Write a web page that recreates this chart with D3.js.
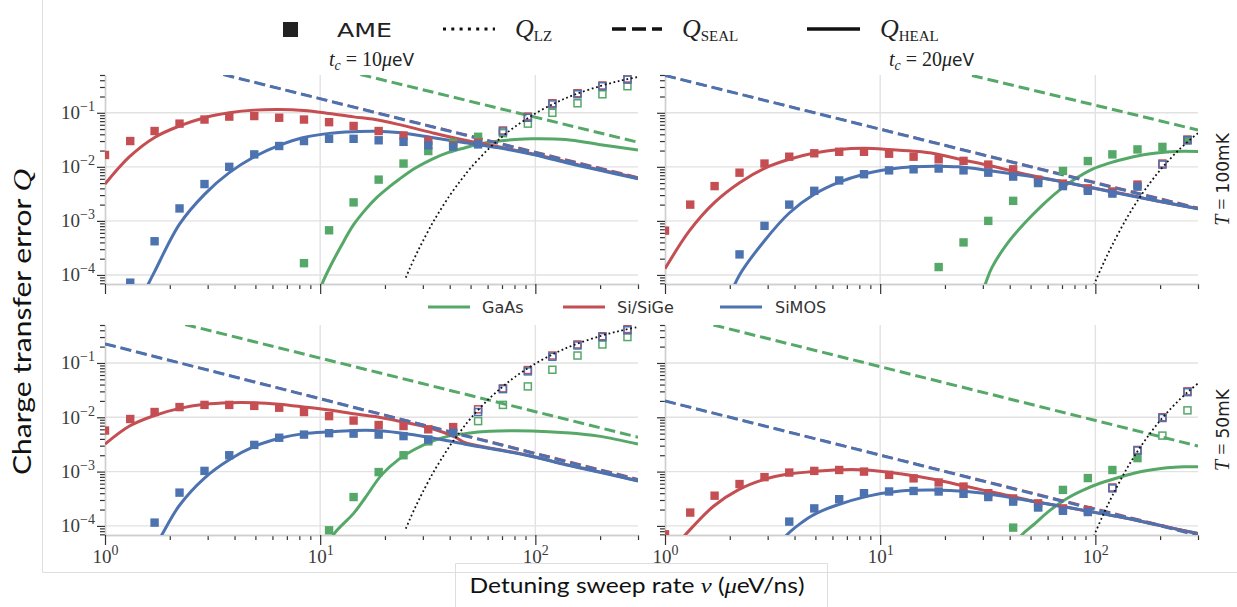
<!DOCTYPE html>
<html><head><meta charset="utf-8">
<script src="https://cdn.jsdelivr.net/npm/d3@7"></script>
<style>body{margin:0;background:#fff;} svg{display:block}</style>
</head><body>
<svg id="chart" width="1237" height="607"></svg>
<script>
// ---------------- DATA ----------------
const materials = ["GaAs", "Si/SiGe", "SiMOS"];
const panelTitles = ["10", "20"];          // t_c in μeV (columns)
const panelTemps = ["100mK", "50mK"];      // T (rows)
const xTickExps = [0, 1, 2];
const yTickExps = [-4, -3, -2, -1];
const xDomain = [1, 300];
const yDomain = [6.8e-5, 0.5];

// sweep rates of the AME points (μeV/ns)
const rates = [1.00, 1.31, 1.70, 2.22, 2.90, 3.78, 4.94, 6.45, 8.41, 11.0, 14.3, 18.7, 24.4, 31.8, 41.5, 54.2, 70.7, 92.3, 120, 157, 205, 268];

// AME values: top-left (tc=10, T=100mK)
const ameTL_GaAs   = [null,null,null,null,null,null,null,null,1.65e-4,6.7e-4,2.2e-3,5.8e-3,0.0115,0.0196,0.028,0.036,0.042,0.063,0.10,0.15,0.22,0.31];
const ameTL_SiSiGe = [0.0166,0.030,0.046,0.063,0.075,0.085,0.087,0.081,0.075,0.067,0.057,0.046,0.038,0.030,0.025,0.028,0.047,0.085,0.15,0.23,0.32,0.43];
const ameTL_SiMOS  = [null,7.2e-5,4.2e-4,1.7e-3,4.8e-3,0.010,0.017,0.0243,0.030,0.033,0.033,0.031,0.029,0.025,0.0236,0.026,0.045,0.081,0.143,0.22,0.31,0.41];
// top-right (tc=20, T=100mK)
const ameTR_GaAs   = [null,null,null,null,null,null,null,null,null,null,null,1.4e-4,4.0e-4,1.0e-3,2.35e-3,5.0e-3,8.4e-3,0.0128,0.017,0.021,0.0234,0.031];
const ameTR_SiSiGe = [6.6e-4,2.0e-3,4.4e-3,7.8e-3,0.0115,0.0154,0.0178,0.019,0.019,0.0175,0.0154,0.0138,0.0129,0.011,0.009,0.0058,0.0049,0.0040,0.0035,0.0047,0.0115,0.032];
const ameTR_SiMOS  = [null,null,null,2.4e-4,8.1e-4,2.0e-3,3.6e-3,5.6e-3,7.3e-3,8.6e-3,9.0e-3,9.3e-3,8.6e-3,7.8e-3,6.6e-3,5.1e-3,4.4e-3,3.6e-3,3.2e-3,4.3e-3,0.011,0.031];
// bottom-left (tc=10, T=50mK)
const ameBL_GaAs   = [null,null,null,null,null,null,null,null,null,8.3e-5,3.4e-4,9.8e-4,2.0e-3,3.6e-3,5.2e-3,8.5e-3,0.0169,0.037,0.075,0.137,0.219,0.30];
const ameBL_SiSiGe = [5.7e-3,9.3e-3,0.0125,0.0154,0.0169,0.0169,0.0162,0.015,0.0125,0.0105,8.7e-3,7.2e-3,6.9e-3,6.0e-3,6.6e-3,0.014,0.034,0.074,0.137,0.219,0.31,0.42];
const ameBL_SiMOS  = [null,null,1.15e-4,4.1e-4,1.03e-3,2.0e-3,3.1e-3,4.2e-3,4.8e-3,5.1e-3,5.0e-3,4.8e-3,4.5e-3,3.9e-3,5.2e-3,0.0125,0.033,0.070,0.13,0.21,0.30,0.40];
// bottom-right (tc=20, T=50mK)
const ameBR_GaAs   = [null,null,null,null,null,null,null,null,null,null,null,null,null,null,9.3e-5,2.2e-4,4.6e-4,7.6e-4,1.07e-3,1.77e-3,4.6e-3,0.0134];
const ameBR_SiSiGe = [7e-5,1.76e-4,3.6e-4,5.9e-4,7.9e-4,9.6e-4,1.03e-3,1.07e-3,1.0e-3,8.7e-4,7.5e-4,6.3e-4,5.3e-4,4.0e-4,3.2e-4,2.6e-4,2.1e-4,1.95e-4,5.1e-4,2.5e-3,0.0100,0.030];
const ameBR_SiMOS  = [null,null,null,null,null,1.2e-4,2.1e-4,3.1e-4,4.0e-4,4.3e-4,4.4e-4,4.3e-4,3.9e-4,3.4e-4,2.8e-4,2.2e-4,1.9e-4,1.8e-4,4.9e-4,2.45e-3,9.7e-3,0.029];
// index from which the AME points are drawn open (GaAs, Si/SiGe, SiMOS)
const openTL = [16, 16, 16];
const openTR = [99, 20, 20];
const openBL = [15, 15, 15];
const openBR = [20, 18, 18];

// Q_HEAL curves [rate, Q]
const healTL_GaAs   = [[9.6,3.5e-5],[10.2,6.8e-5],[11,1.3e-4],[12.5,3.4e-4],[14.3,8.5e-4],[16.2,1.6e-3],[18.4,2.75e-3],[21,4.3e-3],[23.3,5.9e-3],[27.7,9.5e-3],[33,0.0138],[39.5,0.0185],[47.2,0.0226],[56.3,0.027],[67.5,0.030],[80.7,0.032],[96.5,0.033],[138,0.032],[197,0.026],[300,0.0204]];
const healTL_SiSiGe = [[1,4.8e-3],[1.3,0.0154],[1.7,0.035],[2.22,0.057],[2.9,0.081],[3.78,0.10],[4.94,0.112],[6.45,0.115],[8.4,0.11],[11,0.097],[14.3,0.084],[18,0.075],[23.1,0.061],[33,0.043],[47.2,0.031],[67.5,0.0235],[96.5,0.0175],[138,0.0125],[197,0.0089],[300,0.0062]];
const healTL_SiMOS  = [[1.5,4e-5],[1.59,6.8e-5],[1.7,1.15e-4],[2.22,8.7e-4],[2.9,3.1e-3],[3.78,7.8e-3],[4.94,0.0154],[6.45,0.025],[8.4,0.035],[11,0.0416],[14.3,0.0446],[18,0.0455],[23.1,0.043],[33,0.035],[47.2,0.028],[67.5,0.0225],[96.5,0.017],[138,0.012],[197,0.0087],[300,0.006]];
const healTR_GaAs   = [[29,3.5e-5],[30.8,6.8e-5],[33,1.35e-4],[39.5,4.1e-4],[47.2,9.3e-4],[56.3,1.9e-3],[67.5,3.6e-3],[80.7,6e-3],[96.5,9e-3],[115,0.0116],[138,0.0141],[165,0.0165],[197,0.0183],[235,0.0193],[300,0.0193]];
const healTR_SiSiGe = [[1,1.3e-4],[1.3,6.6e-4],[1.7,2.2e-3],[2.22,5.1e-3],[2.9,9.4e-3],[3.78,0.0138],[4.94,0.018],[6.45,0.021],[8.4,0.022],[11,0.021],[14.3,0.0195],[18,0.0175],[23.1,0.014],[33,0.0104],[47.2,7.3e-3],[67.5,5.5e-3],[96.5,4.1e-3],[138,3.1e-3],[197,2.3e-3],[300,1.7e-3]];
const healTR_SiMOS  = [[2.0,4e-5],[2.22,1e-4],[2.9,4.3e-4],[3.78,1.4e-3],[4.94,3.1e-3],[6.45,5.2e-3],[8.4,7.3e-3],[11,9e-3],[14.3,0.01],[18,0.0103],[23.1,0.010],[33,8.4e-3],[47.2,6.9e-3],[67.5,5.45e-3],[96.5,4.1e-3],[138,3.05e-3],[197,2.3e-3],[300,1.68e-3]];
const healBL_GaAs   = [[10.8,3.5e-5],[11.5,6.8e-5],[14.3,1.7e-4],[16.2,3.3e-4],[19.3,8.7e-4],[23.1,1.66e-3],[27.7,2.6e-3],[33,3.6e-3],[39.5,4.5e-3],[47.2,5e-3],[56.3,5.4e-3],[67.5,5.6e-3],[96.5,5.6e-3],[138,5.2e-3],[197,4.5e-3],[300,3.2e-3]];
const healBL_SiSiGe = [[1,3.2e-3],[1.3,6.9e-3],[1.7,0.0108],[2.22,0.0146],[2.9,0.0174],[3.78,0.0186],[4.94,0.0186],[6.45,0.0174],[8.4,0.0155],[11,0.0136],[14.3,0.0116],[18,0.0103],[23.1,8.5e-3],[33,6.2e-3],[42.4,4.3e-3],[47.2,3.4e-3],[67.5,2.55e-3],[96.5,1.92e-3],[138,1.36e-3],[197,1.0e-3],[300,6.8e-4]];
const healBL_SiMOS  = [[1.7,4e-5],[1.835,6.8e-5],[2.22,2.4e-4],[2.9,7.6e-4],[3.78,1.65e-3],[4.94,2.9e-3],[6.45,4.1e-3],[8.4,5e-3],[11,5.4e-3],[14.3,5.7e-3],[18,5.7e-3],[23.1,5.2e-3],[33,4.2e-3],[47.2,3.2e-3],[67.5,2.5e-3],[96.5,1.9e-3],[138,1.34e-3],[197,9.8e-4],[300,6.7e-4]];
const healBR_GaAs   = [[42,4e-5],[45.5,6.8e-5],[51.6,1.05e-4],[61.7,1.95e-4],[73.8,3.2e-4],[88.3,4.6e-4],[105,6.1e-4],[126,7.6e-4],[151,9.3e-4],[180,1.07e-3],[215,1.18e-3],[257,1.23e-3],[300,1.23e-3]];
const healBR_SiSiGe = [[1.1,4e-5],[1.24,6.8e-5],[1.68,2.3e-4],[2.19,4.6e-4],[2.87,7.1e-4],[3.74,9e-4],[4.9,1.0e-3],[6.07,1.07e-3],[8.67,1.07e-3],[12.4,9.1e-4],[17.7,7.2e-4],[25.3,5.3e-4],[36.1,3.9e-4],[51.6,2.85e-4],[73.8,2.2e-4],[105,1.7e-4],[151,1.3e-4],[215,9.5e-5],[300,7.2e-5]];
const healBR_SiMOS  = [[3.3,4e-5],[3.68,6.8e-5],[4.25,1.1e-4],[4.9,1.6e-4],[6.07,2.3e-4],[8.67,3.5e-4],[12.4,4.4e-4],[17.7,4.6e-4],[25.3,4.3e-4],[36.1,3.6e-4],[51.6,2.8e-4],[73.8,2.2e-4],[105,1.7e-4],[151,1.3e-4],[215,9.6e-5],[300,7.2e-5]];

// Q_SEAL straight lines [rate, Q] end points
const sealTL_GaAs   = [[15.4,0.51],[300,0.0285]];
const sealTL_SiSiGe = [[3.55,0.51],[300,0.0064]];
const sealTL_SiMOS  = [[3.55,0.51],[300,0.0061]];
const sealTR_GaAs   = [[26.7,0.49],[300,0.048]];
const sealTR_SiSiGe = [[1,0.49],[300,0.00175]];
const sealTR_SiMOS  = [[1,0.49],[300,0.00168]];
const sealBL_GaAs   = [[2.36,0.51],[300,0.0043]];
const sealBL_SiSiGe = [[1,0.225],[300,7.3e-4]];
const sealBL_SiMOS  = [[1,0.225],[300,7.0e-4]];
const sealBR_GaAs   = [[1.68,0.50],[300,2.95e-3]];
const sealBR_SiSiGe = [[1,0.020],[300,7.0e-5]];
const sealBR_SiMOS  = [[1,0.020],[300,6.7e-5]];

// Q_LZ curves [rate, Q]
const lzTc10 = [[25,8.9e-5],[26,1.28e-4],[28,2.43e-4],[30,4.2e-4],[33,8.6e-4],[35,1.28e-3],[40,2.95e-3],[45,5.6e-3],[50,9.5e-3],[60,0.0206],[70,0.0358],[80,0.0544],[100,0.0973],[125,0.155],[150,0.212],[200,0.312],[250,0.394],[300,0.46]];
const lzTc20 = [[95,4.5e-5],[100,7.5e-5],[110,1.77e-4],[120,3.6e-4],[140,1.13e-3],[160,2.64e-3],[180,5.1e-3],[200,8.7e-3],[225,0.0147],[250,0.0224],[275,0.0316],[300,0.042]];

// ---------------- STYLE / LAYOUT ----------------
const matColors = ["#55a868", "#c44e52", "#4c72b0"];
const sealWidths = [3, 2.2, 3];
const serif = "'Liberation Serif', 'DejaVu Serif', serif";
const sans = "'DejaVu Sans', sans-serif";
const layout = [
  {x0:105, x1:638, y0:75, y1:284},
  {x0:665, x1:1198, y0:75, y1:284},
  {x0:105, x1:638, y0:325, y1:535},
  {x0:665, x1:1198, y0:325, y1:535}
];
const panels = [
  {ame:[ameTL_GaAs, ameTL_SiSiGe, ameTL_SiMOS], open:openTL, heal:[healTL_GaAs, healTL_SiSiGe, healTL_SiMOS], seal:[sealTL_GaAs, sealTL_SiSiGe, sealTL_SiMOS], lz:lzTc10},
  {ame:[ameTR_GaAs, ameTR_SiSiGe, ameTR_SiMOS], open:openTR, heal:[healTR_GaAs, healTR_SiSiGe, healTR_SiMOS], seal:[sealTR_GaAs, sealTR_SiSiGe, sealTR_SiMOS], lz:lzTc20},
  {ame:[ameBL_GaAs, ameBL_SiSiGe, ameBL_SiMOS], open:openBL, heal:[healBL_GaAs, healBL_SiSiGe, healBL_SiMOS], seal:[sealBL_GaAs, sealBL_SiSiGe, sealBL_SiMOS], lz:lzTc10},
  {ame:[ameBR_GaAs, ameBR_SiSiGe, ameBR_SiMOS], open:openBR, heal:[healBR_GaAs, healBR_SiSiGe, healBR_SiMOS], seal:[sealBR_GaAs, sealBR_SiSiGe, sealBR_SiMOS], lz:lzTc20}
];

const svg = d3.select("#chart");
svg.append("rect").attr("width", 1237).attr("height", 607).attr("fill", "#fff");

// frame of the pasted figure and the label box
const frame = svg.append("g").attr("stroke", "#dedede").attr("stroke-width", 1).attr("fill", "none");
frame.append("path").attr("d", "M42.5,0V572.5H1237");
frame.append("path").attr("d", "M455.5,607V563.5H827.5V607");

// helper for rich math-like text
function rich(sel, parts) {
  let shift = 0;
  parts.forEach(p => {
    const t = sel.append("tspan").text(p.t);
    const s = p.shift || 0;
    if (s !== shift) { t.attr("dy", s - shift); shift = s; }
    if (p.font) t.attr("font-family", p.font);
    if (p.size) t.attr("font-size", p.size);
    if (p.italic) t.attr("font-style", "italic");
  });
  return sel;
}

const isMajor = v => Math.abs(Math.log10(v) - Math.round(Math.log10(v))) < 1e-9;

panels.forEach((p, pi) => {
  const L = layout[pi];
  const col = pi % 2, row = Math.floor(pi / 2);
  const x = d3.scaleLog().domain(xDomain).range([L.x0, L.x1]);
  const y = d3.scaleLog().domain(yDomain).range([L.y1, L.y0]);
  const g = svg.append("g");
  const clipId = "clip" + pi;
  svg.append("clipPath").attr("id", clipId).append("rect")
    .attr("x", L.x0).attr("y", L.y0).attr("width", L.x1 - L.x0).attr("height", L.y1 - L.y0);

  const yMajors = yTickExps.map(e => Math.pow(10, e));
  const xMajors = xTickExps.map(e => Math.pow(10, e));
  // grid
  g.append("g").selectAll("line").data(yMajors).join("line")
    .attr("x1", L.x0).attr("x2", L.x1).attr("y1", d => y(d)).attr("y2", d => y(d))
    .attr("stroke", "#e2e2e2").attr("stroke-width", 1.4);
  g.append("g").selectAll("line").data(xMajors.filter(v => v > xDomain[0])).join("line")
    .attr("y1", L.y0).attr("y2", L.y1).attr("x1", d => x(d)).attr("x2", d => x(d))
    .attr("stroke", "#e2e2e2").attr("stroke-width", 1.4);

  // axes
  const styleAxis = a => {
    a.select(".domain").attr("stroke", "#cfcfcf").attr("stroke-width", 1.4);
    a.selectAll(".tick line").attr("stroke", "#333").attr("stroke-width", 1.2);
  };
  const yMinor = y.ticks().filter(v => !isMajor(v));
  const xMinor = x.ticks().filter(v => !isMajor(v));
  const ay1 = g.append("g").attr("transform", `translate(${L.x0},0)`)
    .call(d3.axisLeft(y).tickValues(yMinor).tickSize(5).tickSizeOuter(0).tickFormat(() => ""));
  styleAxis(ay1);
  const ay2 = g.append("g").attr("transform", `translate(${L.x0},0)`)
    .call(d3.axisLeft(y).tickValues(yMajors).tickSize(8).tickSizeOuter(0).tickFormat(() => ""));
  styleAxis(ay2);
  const ax1 = g.append("g").attr("transform", `translate(0,${L.y1})`)
    .call(d3.axisBottom(x).tickValues(xMinor).tickSize(5).tickSizeOuter(0).tickFormat(() => ""));
  styleAxis(ax1);
  const ax2 = g.append("g").attr("transform", `translate(0,${L.y1})`)
    .call(d3.axisBottom(x).tickValues(xMajors).tickSize(10).tickSizeOuter(0).tickFormat(() => ""));
  styleAxis(ax2);

  if (col === 0) {
    ay2.selectAll(".tick text").each(function(d) {
      const t = d3.select(this).attr("dy", null).attr("x", -10).attr("y", 6)
        .attr("font-family", serif).attr("font-size", 19).attr("fill", "#3a3a3a").attr("text-anchor", "end");
      rich(t, [{t: "10"}, {t: "\u2212" + Math.abs(Math.round(Math.log10(d))), size: 14, shift: -8}]);
    });
  }
  if (row === 1) {
    ax2.selectAll(".tick text").each(function(d) {
      const t = d3.select(this).attr("dy", null).attr("y", 28)
        .attr("font-family", serif).attr("font-size", 19).attr("fill", "#3a3a3a").attr("text-anchor", "middle");
      rich(t, [{t: "10"}, {t: String(Math.round(Math.log10(d))), size: 14, shift: -8}]);
    });
  }

  const plot = g.append("g").attr("clip-path", `url(#${clipId})`);
  const line = d3.line().x(d => x(d[0])).y(d => y(d[1])).curve(d3.curveCatmullRom.alpha(0.5));
  // HEAL solid
  p.heal.forEach((s, mi) => plot.append("path").datum(s).attr("d", line)
    .attr("fill", "none").attr("stroke", matColors[mi]).attr("stroke-width", 3));
  // SEAL dashed
  p.seal.forEach((s, mi) => plot.append("path").datum(s).attr("d", d3.line().x(d => x(d[0])).y(d => y(d[1])))
    .attr("fill", "none").attr("stroke", matColors[mi]).attr("stroke-width", sealWidths[mi]).attr("stroke-dasharray", "11,5"));
  // AME markers
  p.ame.forEach((vals, mi) => {
    const pts = vals.map((v, i) => ({v: rates[i], q: v, open: i >= p.open[mi]})).filter(d => d.q !== null);
    plot.append("g").selectAll("rect").data(pts).join("rect")
      .attr("x", d => x(d.v) - (d.open ? 3.5 : 4.2)).attr("y", d => y(d.q) - (d.open ? 3.5 : 4.2))
      .attr("width", d => d.open ? 7 : 8.4).attr("height", d => d.open ? 7 : 8.4)
      .attr("fill", d => d.open ? "none" : matColors[mi])
      .attr("stroke", d => d.open ? matColors[mi] : "none").attr("stroke-width", 1.5);
  });
  // LZ dotted
  plot.append("path").datum(p.lz).attr("d", line).attr("fill", "none")
    .attr("stroke", "#111").attr("stroke-width", 1.8).attr("stroke-dasharray", "1.8,2.7");

  // titles
  if (row === 0) {
    const t = svg.append("text").attr("x", (L.x0 + L.x1) / 2).attr("y", 66).attr("text-anchor", "middle")
      .attr("font-family", serif).attr("font-size", 20).attr("fill", "#222");
    rich(t, [{t: "t", italic: true}, {t: "c", italic: true, size: 14, shift: 4}, {t: " = " + panelTitles[col]},
             {t: "\u03bc", italic: true}, {t: "eV", font: sans, size: 17}]);
  }
  if (col === 1) {
    const cy = (L.y0 + L.y1) / 2;
    const t = svg.append("text").attr("transform", `translate(1229,${cy}) rotate(-90)`).attr("text-anchor", "middle")
      .attr("font-family", serif).attr("font-size", 20).attr("fill", "#222");
    rich(t, [{t: "T", italic: true}, {t: " = "}, {t: panelTemps[row], font: sans, size: 17}]);
  }
});

// ---- top legend ----
const lg = svg.append("g");
lg.append("rect").attr("x", 283).attr("y", 22).attr("width", 15).attr("height", 15).attr("fill", "#222");
lg.append("text").attr("x", 337).attr("y", 37).attr("font-family", sans).attr("font-size", 20).attr("fill", "#222")
  .attr("textLength", 55).attr("lengthAdjust", "spacingAndGlyphs").text("AME");
lg.append("line").attr("x1", 443).attr("x2", 495).attr("y1", 29).attr("y2", 29).attr("stroke", "#111")
  .attr("stroke-width", 3).attr("stroke-dasharray", "3,5.3");
lg.append("line").attr("x1", 612).attr("x2", 662).attr("y1", 29).attr("y2", 29).attr("stroke", "#111")
  .attr("stroke-width", 3.5).attr("stroke-dasharray", "14,6");
lg.append("line").attr("x1", 807).attr("x2", 860).attr("y1", 29).attr("y2", 29).attr("stroke", "#111")
  .attr("stroke-width", 3.5);
[["LZ", 515], ["SEAL", 682], ["HEAL", 880]].forEach(([sub, xx]) => {
  const t = lg.append("text").attr("x", xx).attr("y", 37).attr("font-family", serif).attr("font-size", 26).attr("fill", "#222");
  rich(t, [{t: "Q", italic: true}, {t: sub, size: 15, shift: 4}]);
});

// ---- material legend ----
const legX = [[428, 482], [563, 617], [720, 775]];
materials.forEach((m, mi) => {
  lg.append("line").attr("x1", legX[mi][0]).attr("x2", legX[mi][0] + 42).attr("y1", 307).attr("y2", 307)
    .attr("stroke", matColors[mi]).attr("stroke-width", 3);
  lg.append("text").attr("x", legX[mi][1]).attr("y", 313).attr("font-family", sans).attr("font-size", 16)
    .attr("fill", "#333").text(m);
});

// ---- axis labels ----
const yl = svg.append("text").attr("transform", "translate(31,322) rotate(-90)").attr("text-anchor", "middle")
  .attr("font-family", "Lato, 'Open Sans', sans-serif").attr("font-size", 25).attr("fill", "#111")
  .attr("textLength", 306).attr("lengthAdjust", "spacingAndGlyphs");
rich(yl, [{t: "Charge transfer error "}, {t: "Q", italic: true, font: serif, size: 26}]);
const xl = svg.append("text").attr("x", 637).attr("y", 593).attr("text-anchor", "middle")
  .attr("font-family", "Lato, 'Open Sans', sans-serif").attr("font-size", 22).attr("fill", "#111")
  .attr("textLength", 335).attr("lengthAdjust", "spacingAndGlyphs");
rich(xl, [{t: "Detuning sweep rate "}, {t: "\u03bd", italic: true, font: serif}, {t: " ("}, {t: "\u03bc", italic: true, font: serif}, {t: "eV/ns)"}]);
</script>
</body></html>
